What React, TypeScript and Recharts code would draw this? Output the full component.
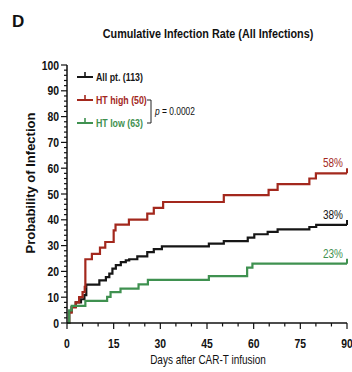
import React from 'react'
import { LineChart, Line, XAxis, YAxis, Legend } from 'recharts'

// Kaplan-Meier style cumulative incidence, step points (day, % infected)
const allDays = [0, 0.7, 1.5, 2.8, 4.5, 5.6, 6.2, 10.4, 12.5, 13.6, 14.6, 15.7, 17.3, 18.9, 20, 22.6, 25.8, 27.9, 30.5, 45.6, 50.4, 58.1, 60.2, 64.5, 67.7, 77.9, 80.1, 90]
const allPct = [0, 4.4, 6.2, 8, 9.2, 10.8, 14.9, 16.5, 17.8, 19.1, 21.1, 22.4, 23.6, 24.3, 24.7, 25.8, 27.5, 28.6, 29.7, 30.8, 31.7, 33.1, 34.4, 35.3, 36.3, 37.2, 38, 38]

const highDays = [0, 0.7, 1.5, 2.8, 3.9, 5.0, 5.7, 5.9, 8.0, 10.6, 12.3, 15.0, 15.6, 19.9, 25.8, 27.9, 30.9, 50.4, 64.8, 67.7, 77.9, 80.0, 90]
const highPct = [0, 4, 6, 8, 10, 12, 14, 24.7, 26.8, 29.2, 31.4, 35.9, 38.1, 40.1, 42.4, 44.6, 46.9, 49.6, 51.6, 53.8, 56, 58, 58]

const lowDays = [0, 0.7, 1.5, 5.9, 12.9, 14.0, 17.2, 23.0, 26.0, 45.6, 57.9, 59.6, 90]
const lowPct = [0, 4.9, 6.6, 8.6, 10.1, 12.0, 13.3, 15.0, 16.7, 18.2, 21.5, 23, 23]

const xTicks = [0, 5, 10, 15, 20, 25, 30, 35, 40, 45, 50, 55, 60, 65, 70, 75, 80, 85, 90]
const yTicks = Array.from({ length: 51 }, (_, i) => i * 2)

const SERIES = [
  { key: 'all', label: 'All pt. (113)', color: '#161616', days: allDays, pct: allPct },
  { key: 'high', label: 'HT high (50)', color: '#a3281d', days: highDays, pct: highPct },
  { key: 'low', label: 'HT low (63)', color: '#3f9150', days: lowDays, pct: lowPct },
]

const FONT = "'Liberation Sans', Arial, sans-serif"

const toPoints = (days: number[], pct: number[]) => days.map((d, i) => ({ day: d, pct: pct[i] }))

// Liberation Sans squeezed horizontally to get an Arial Narrow look
function Narrow({ x, y, anchor = 'start', size, bold = false, color = '#111', children }: any) {
  return (
    <text
      transform={`translate(${x} ${y}) scale(0.8 1)`}
      textAnchor={anchor}
      fontFamily={FONT}
      fontWeight={bold ? 'bold' : 'normal'}
      fontSize={size}
      fill={color}
    >
      {children}
    </text>
  )
}

function YTick({ x, y, payload }: any) {
  const v = payload.value
  const major = v % 10 === 0
  return (
    <g>
      <line x1={x - (major ? 6 : 3)} x2={x} y1={y} y2={y} stroke="#111" strokeWidth={1.2} />
      {major && <Narrow x={x - 8} y={y + 4.5} anchor="end" size={13} bold>{v}</Narrow>}
    </g>
  )
}

function XTick({ x, y, payload }: any) {
  const v = payload.value
  const major = v % 15 === 0
  return (
    <g>
      <line x1={x} x2={x} y1={y} y2={y + (major ? 6 : 3.5)} stroke="#111" strokeWidth={1.2} />
      {major && <Narrow x={x} y={y + 25} anchor="middle" size={13} bold>{v}</Narrow>}
    </g>
  )
}

// censor tick + percentage label at the last point of each curve
const endMark = (color: string, count: number) => (props: any) => {
  const { cx, cy, index, payload } = props
  if (index !== count - 1) return <g key={index} />
  return (
    <g key={index}>
      <line x1={cx} x2={cx} y1={cy} y2={cy - 5} stroke={color} strokeWidth={2} />
      <Narrow x={cx - 4} y={cy - 6} anchor="end" size={12.5} color={color}>{`${payload.pct}%`}</Narrow>
    </g>
  )
}

function LegendBox() {
  return (
    <svg width={130} height={64} style={{ overflow: 'visible' }}>
      {SERIES.map((s, i) => {
        const y = 9 + i * 23
        return (
          <g key={s.key}>
            <line x1={5} x2={21} y1={y} y2={y} stroke={s.color} strokeWidth={2} />
            <line x1={13} x2={13} y1={y} y2={y - 5} stroke={s.color} strokeWidth={1.6} />
            <Narrow x={24} y={y + 4} size={11} bold color={s.color}>{s.label}</Narrow>
          </g>
        )
      })}
      <path d="M75 32 H79 V55 H75" fill="none" stroke="#222" strokeWidth={1} />
      <Narrow x={83} y={47} size={10.5}>
        <tspan fontStyle="italic">p</tspan> = 0.0002
      </Narrow>
    </svg>
  )
}

export default function App() {
  return (
    <div style={{ position: 'absolute', left: 0, top: 0, width: 352, height: 372, background: '#fff' }}>
      <LineChart width={352} height={372} margin={{ top: 65, right: 5, bottom: 0, left: 0 }}>
        <XAxis
          type="number"
          dataKey="day"
          domain={[0, 90]}
          ticks={xTicks}
          interval={0}
          height={49}
          tickLine={false}
          tickSize={0}
          tickMargin={0}
          tick={<XTick />}
          axisLine={{ stroke: '#111', strokeWidth: 1.5 }}
        />
        <YAxis
          type="number"
          domain={[0, 100]}
          ticks={yTicks}
          width={67}
          tickLine={false}
          tickSize={0}
          tickMargin={0}
          tick={<YTick />}
          interval={0}
          axisLine={{ stroke: '#111', strokeWidth: 1.5 }}
        />
        <Legend
          layout="vertical"
          verticalAlign="middle"
          align="center"
          content={() => <LegendBox />}
          wrapperStyle={{ left: 72, top: 68, width: 130 }}
        />
        {SERIES.map(s => (
          <Line
            key={s.key}
            data={toPoints(s.days, s.pct)}
            dataKey="pct"
            type="stepAfter"
            stroke={s.color}
            strokeWidth={2.2}
            dot={endMark(s.color, s.days.length)}
            activeDot={false}
            isAnimationActive={false}
          />
        ))}
      </LineChart>
      <svg width={352} height={372} style={{ position: 'absolute', left: 0, top: 0, pointerEvents: 'none' }}>
        <text x={12} y={27} fontFamily={FONT} fontWeight="bold" fontSize={17} fill="#111">D</text>
        <Narrow x={208} y={38} anchor="middle" size={13.5} bold>
          Cumulative Infection Rate (All Infections)
        </Narrow>
        <text
          x={0}
          y={0}
          transform="translate(35 183) rotate(-90)"
          textAnchor="middle"
          fontFamily={FONT}
          fontWeight="bold"
          fontSize={13}
          fill="#111"
        >
          Probability of Infection
        </text>
        <Narrow x={208} y={364} anchor="middle" size={12.5}>
          Days after CAR-T infusion
        </Narrow>
      </svg>
    </div>
  )
}
